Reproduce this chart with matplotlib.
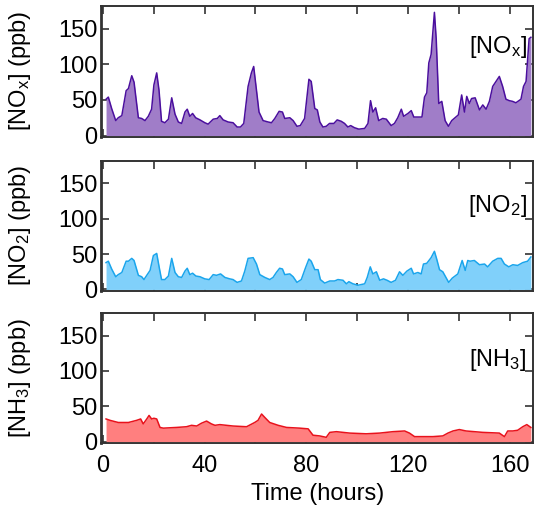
import numpy as np
import matplotlib
matplotlib.use('Agg')
import matplotlib.pyplot as plt
from matplotlib.ticker import MultipleLocator

plt.rcParams['font.family'] = ['Liberation Sans', 'DejaVu Sans']
plt.rcParams['mathtext.default'] = 'regular'

# hourly concentrations (ppb) over one week
nox_t = [1.3, 2.2, 3.5, 5.1, 6.1, 7.5, 9.2, 10.1, 11.4, 12.3, 14, 15.3, 16.6, 17.9, 19.2,
         20.1, 21.2, 22.1, 23.1, 24.4, 25.8, 27.1, 28.4, 29.7, 31, 32.3, 33.2, 34.2, 35.3,
         36.5, 38.2, 40.1, 41.4, 43.4, 45, 46, 47.3, 49.3, 51.2, 52.8, 54.1, 55.4, 57.1,
         58.4, 59.3, 60.4, 61.4, 63, 65, 66.3, 67.6, 69.3, 70.6, 71.5, 73.5, 74.8, 76.3,
         77.6, 79.3, 81, 81.9, 83.3, 84.3, 85.3, 86.5, 87.8, 89.1, 90.8, 92.1, 93.7, 95,
         96.3, 97.4, 98.9, 100.6, 102.9, 104.2, 105.2, 106.1, 107.2, 108.4, 110, 111.4,
         113.3, 114.6, 115.9, 117.3, 118.2, 119.9, 121.2, 122.2, 123.8, 125.4, 126.4,
         127.3, 128.1, 129, 129.7, 130.3, 131, 132, 133.2, 134.5, 135.8, 137.1, 138.4,
         139.7, 141, 142.1, 143, 144, 144.9, 146.3, 148, 149.3, 150.6, 151.9, 153.2,
         154.5, 155.8, 157.1, 158.4, 159.7, 161, 162.3, 164.3, 165.3, 166.3, 167.5, 168.2]
nox = [51, 54, 38, 21, 25, 28, 63, 66, 84, 75, 25, 24, 21, 27, 37,
       71, 88, 64, 20, 18, 23, 53, 30, 19, 17, 33, 37, 27, 31,
       25, 22, 18, 16, 23, 24, 28, 22, 19, 18, 12, 12, 17, 69,
       88, 97, 64, 33, 21, 19, 18, 24, 34, 33, 24, 25, 21, 13,
       14, 24, 79, 76, 38, 36, 19, 12, 13, 17, 17, 22, 20, 17,
       12, 14, 11, 9, 10, 17, 49, 33, 39, 21, 24, 23,
       14, 17, 25, 37, 27, 31, 35, 26, 26, 26, 54,
       60, 102, 114, 145, 173, 136, 45, 48, 21, 13, 21, 25,
       29, 57, 33, 55, 45, 52, 53, 36, 43, 37, 48, 69,
       76, 83, 69, 51, 49, 48, 46, 51, 69, 76, 136, 138]

no2_t = [1.3, 2.2, 3.5, 5.1, 6.1, 7.5, 9.2, 10.1, 11.4, 12.3, 14, 15.3, 16.2, 17.3, 18.6,
         19.9, 21.2, 22.2, 23.1, 24.4, 25.8, 27.1, 28.4, 29.7, 31, 32.3, 33.2, 34.2, 35.3,
         36.6, 38.2, 40.1, 41.8, 43.4, 44.7, 46.3, 48, 49.9, 51.2, 52.8, 54.5, 55.8, 57.1,
         59.1, 60.4, 61.7, 63.7, 65.6, 66.9, 68.2, 69.5, 70.6, 71.5, 73.5, 74.8, 76.3, 78,
         79.7, 81, 81.9, 83.3, 84.6, 85.5, 87.2, 89.2, 91.1, 92.4, 94.4, 95.7, 96.7, 98.3,
         100.3, 102.9, 103.9, 105.1, 106.1, 107.5, 108.8, 110.3, 111.7, 113.3, 115, 116.6,
         117.9, 119.5, 121.2, 122.1, 123.8, 125.1, 126, 127.3, 129, 130.3, 131.2, 132.3,
         133.6, 135.9, 137.3, 139.5, 141.2, 142.4, 143.4, 144.3, 146, 148, 150, 151.2,
         153.2, 155.2, 156.5, 157.8, 159.5, 161.1, 163, 165, 166.9, 168.2]
no2 = [38, 40, 29, 18, 21, 24, 40, 40, 44, 41, 20, 18, 14, 20, 27,
       48, 51, 31, 14, 14, 19, 44, 24, 18, 17, 26, 30, 21, 23,
       19, 18, 15, 14, 21, 20, 22, 17, 15, 14, 10, 12, 26, 44,
       45, 36, 21, 17, 14, 17, 24, 30, 29, 21, 22, 18, 10, 14,
       31, 43, 40, 28, 28, 14, 9, 12, 12, 14, 13, 8, 11, 8,
       6, 8, 17, 32, 22, 25, 13, 15, 13, 10, 13, 25,
       20, 26, 30, 22, 24, 22, 36, 37, 45, 54, 43, 28,
       25, 10, 16, 22, 41, 27, 41, 40, 41, 35, 36, 32,
       40, 44, 44, 36, 32, 35, 34, 38, 40, 46]

nh3_t = [1.3, 2.9, 6.1, 10.1, 13.3, 14.9, 15.9, 17.3, 18.2, 19.2, 20.1, 21.2, 22.5, 23.8,
         29, 32.9, 34.9, 36.9, 38.8, 40.8, 42.7, 44.1, 46, 51.2, 56.5, 59.7, 61, 62.4,
         63.7, 65.6, 68.9, 72.2, 77.4, 80.7, 82.6, 85.2, 87.8, 89.2, 91.8, 97, 103.5,
         108.8, 114, 118.6, 120.5, 122.5, 125.8, 129.7, 133.6, 135.6, 137.6, 140.1, 142.7,
         149.3, 155.8, 157.8, 159.1, 161.1, 163, 165, 166.6, 168.2]
nh3 = [32, 30, 27, 27, 30, 32, 25, 32, 37, 32, 33, 32, 20, 19,
       20, 21, 23, 22, 26, 29, 25, 23, 24, 22, 21, 27, 30, 39,
       34, 27, 23, 20, 19, 18, 9, 8, 6, 13, 14, 12, 11,
       12, 14, 15, 12, 7, 7, 7, 8, 12, 15, 17, 15,
       13, 12, 7, 15, 15, 16, 21, 24, 20]

panels = [
    (nox_t, nox, '#4b0f9e', '#a07dc8', r'[NO$_x$]'),
    (no2_t, no2, '#1aa5ec', '#80d0fa', r'[NO$_2$]'),
    (nh3_t, nh3, '#e8121c', '#ff7f7f', r'[NH$_3$]'),
]
label_y = [0.69, 0.65, 0.64]
boxes = [0.733, 0.433, 0.1365]
heights = [0.2554, 0.2534, 0.2534]


def draw_panel(ax, t, c, line_col, fill_col, name, ly):
    ax.fill_between(t, 0, c, color=fill_col, lw=0, zorder=3)
    ax.plot(t, c, color=line_col, lw=1.1, zorder=4)
    ax.set_xlim(-0.5, 169)
    ax.set_ylim(-2, 182)
    ax.xaxis.set_major_locator(MultipleLocator(40))
    ax.xaxis.set_minor_locator(MultipleLocator(20))
    ax.yaxis.set_major_locator(MultipleLocator(50))
    ax.tick_params(which='both', direction='in', top=True, right=True,
                   length=6, width=1.2, color='#333333', labelsize=17, pad=3)
    ax.tick_params(axis='x', pad=9)
    for sp in ax.spines.values():
        sp.set_color('#333333')
        sp.set_linewidth(1.4)
    ax.spines['left'].set_linewidth(2)
    ax.set_ylabel(name + ' (ppb)', fontsize=17)
    ax.yaxis.set_label_coords(-0.159, 0.5)
    ax.text(0.986, ly, name, transform=ax.transAxes, ha='right', va='center',
            fontsize=17)


fig = plt.figure(figsize=(5.34, 5.13), dpi=100)
axes = []
for i, (t, c, lc, fc, name) in enumerate(panels):
    ax = fig.add_axes([0.190, boxes[i], 0.808, heights[i]])
    draw_panel(ax, t, c, lc, fc, name, label_y[i])
    if i < 2:
        ax.tick_params(labelbottom=False)
    axes.append(ax)

axes[-1].set_xlabel('Time (hours)', fontsize=17, labelpad=4)

fig.savefig('out.png', dpi=100)
